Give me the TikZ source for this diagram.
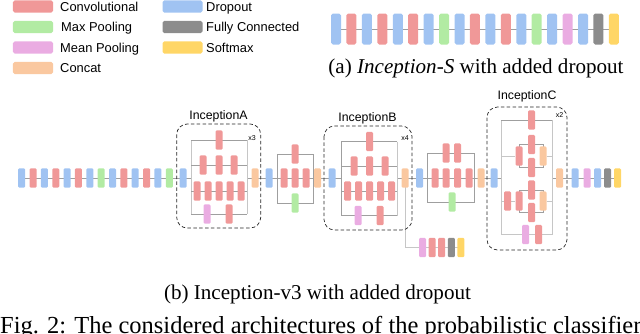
\documentclass[tikz,border=0pt]{standalone}
\usepackage{fontspec}
\setmainfont{Liberation Serif}
\setsansfont{Liberation Sans}
\usetikzlibrary{backgrounds}

\definecolor{convred}{RGB}{240,152,152}
\definecolor{maxgreen}{RGB}{178,235,163}
\definecolor{meanpink}{RGB}{234,172,226}
\definecolor{catpeach}{RGB}{250,200,160}
\definecolor{dropblue}{RGB}{160,195,242}
\definecolor{fcgray}{RGB}{140,140,140}
\definecolor{softyellow}{RGB}{255,214,102}

\tikzset{
  blk/.style={rounded corners=1pt, minimum width=0.21cm, minimum height=0.58cm, inner sep=0pt},
  bigblk/.style={rounded corners=1.5pt, minimum width=0.3cm, minimum height=0.93cm, inner sep=0pt},
  lgbox/.style={rounded corners=1.5pt, minimum width=1.2cm, minimum height=0.37cm, inner sep=0pt},
  convb/.style={fill=convred},
  maxb/.style={fill=maxgreen},
  meanb/.style={fill=meanpink},
  catb/.style={fill=catpeach},
  dropb/.style={fill=dropblue},
  fcb/.style={fill=fcgray},
  softb/.style={fill=softyellow},
  wire/.style={draw=gray!75, line width=0.8pt},
  lwire/.style={draw=gray!45, line width=0.8pt},
  incbox/.style={draw=black!85, densely dashed, rounded corners=9pt, line width=0.6pt},
  lgtext/.style={anchor=west, font=\sffamily\fontsize{11}{13}\selectfont, inner sep=0pt, text height=7.9pt, text depth=0pt},
  inclabel/.style={font=\sffamily\fontsize{10.5}{12}\selectfont, inner sep=0pt},
  rep/.style={font=\sffamily\fontsize{6}{7}\selectfont, inner sep=0pt},
  capt/.style={font=\fontsize{18}{21}\selectfont, inner sep=0pt, anchor=base}
}

\begin{document}
\begin{tikzpicture}[x=0.03cm, y=-0.03cm]
    \useasboundingbox (0,0) rectangle (640,334);

    % Legend
    \node[lgbox, convb] (lgconv) at (33,6.5) {};
    \node[lgtext] (lgconvt) at (60,6.5) {Convolutional};
    \node[lgbox, maxb] (lgmax) at (33,27) {};
    \node[lgtext] (lgmaxt) at (61,27) {Max Pooling};
    \node[lgbox, meanb] (lgmean) at (33,47.5) {};
    \node[lgtext] (lgmeant) at (60,47.5) {Mean Pooling};
    \node[lgbox, catb] (lgcat) at (33,68) {};
    \node[lgtext] (lgcatt) at (60,68) {Concat};
    \node[lgbox, dropb] (lgdrop) at (182.5,6.5) {};
    \node[lgtext] (lgdropt) at (206,6.5) {Dropout};
    \node[lgbox, fcb] (lgfc) at (182.5,27) {};
    \node[lgtext] (lgfct) at (206,27) {Fully Connected};
    \node[lgbox, softb] (lgsoft) at (182.5,47.5) {};
    \node[lgtext] (lgsoftt) at (206,47.5) {Softmax};

    % Inception-S
    \foreach \c [count=\i] in {dropb,convb,dropb,convb,dropb,convb,dropb,maxb,dropb,convb,dropb,convb,dropb,maxb,dropb,meanb,dropb,fcb,softb}
        \node[bigblk,\c] (s\i) at ({336+15.44*(\i-1)},29) {};
    \node[capt] (capa) at (476,73) {(a) \textit{Inception-S} with added dropout};

    % Inception-v3 stem
    \foreach \c [count=\i] in {dropb,convb,dropb,convb,dropb,convb,dropb,maxb,dropb,convb,dropb,convb,dropb,maxb}
        \node[blk,\c] (m\i) at ({21.7+11.35*(\i-1)},178) {};

    % InceptionA
    \node[blk,dropb] (inA) at (183,178) {};
    \foreach \r/\y in {1/140,2/165,3/191,4/214} {
        \coordinate (aL\r) at (191,\y);
        \coordinate (aR\r) at (247,\y);
    }
    \coordinate (aIn) at (191,178);
    \coordinate (aOut) at (247,178);
    \node[blk,convb] (ia11) at (219,140) {};
    \foreach \x [count=\i] in {203,219,234}
        \node[blk,convb] (ia2\i) at (\x,165) {};
    \foreach \x [count=\i] in {197,208,219,230,241}
        \node[blk,convb] (ia3\i) at (\x,191) {};
    \node[blk,meanb] (ia41) at (207,214) {};
    \node[blk,convb] (ia42) at (229,214) {};
    \node[blk,catb] (oA) at (255,178) {};
    \coordinate (boxA1) at (176.7,124);
    \coordinate (boxA2) at (260.7,228);
    \draw[incbox] (boxA1) rectangle (boxA2);
    \node[inclabel] (lblA) at (218.5,116.5) {InceptionA};
    \node[rep] (repA) at (252,138) {x3};

    % Reduction A
    \node[blk,dropb] (dA) at (269,178) {};
    \coordinate (rA1) at (277,154);
    \coordinate (rA2) at (313,203);
    \node[blk,convb] (ra11) at (295,154) {};
    \foreach \x [count=\i] in {284,295,306}
        \node[blk,convb] (ra2\i) at (\x,178) {};
    \node[blk,maxb] (ra31) at (295,203) {};
    \node[blk,catb] (oRA) at (317.5,178) {};

    % InceptionB
    \node[blk,dropb] (inB) at (332,178) {};
    \foreach \r/\y in {1/141.5,2/166,3/191,4/215.5} {
        \coordinate (bL\r) at (341,\y);
        \coordinate (bR\r) at (397,\y);
    }
    \coordinate (bIn) at (341,178);
    \coordinate (bOut) at (397,178);
    \node[blk,convb] (ib11) at (369.5,141.5) {};
    \foreach \x [count=\i] in {354,369.5,385}
        \node[blk,convb] (ib2\i) at (\x,166) {};
    \foreach \x [count=\i] in {347.5,358.5,369.5,380.5,391.5}
        \node[blk,convb] (ib3\i) at (\x,191) {};
    \node[blk,meanb] (ib41) at (358,215.5) {};
    \node[blk,convb] (ib42) at (380,215.5) {};
    \node[blk,catb] (oB) at (405,178) {};
    \coordinate (boxB1) at (324,126);
    \coordinate (boxB2) at (412,230);
    \draw[incbox] (boxB1) rectangle (boxB2);
    \node[inclabel] (lblB) at (367.5,118.5) {InceptionB};
    \node[rep] (repB) at (405,138) {x4};

    % Auxiliary head
    \foreach \c [count=\i] in {meanb,convb,convb,fcb,softb}
        \node[blk,\c] (x\i) at ({422.5+9.6*(\i-1)},247.5) {};

    % Reduction B
    \node[blk,dropb] (dB) at (419.5,178) {};
    \coordinate (rB1) at (427,153);
    \coordinate (rB2) at (474,202);
    \foreach \x [count=\i] in {446,457.5}
        \node[blk,convb] (rb1\i) at (\x,153) {};
    \foreach \x [count=\i] in {435,446,457.5,469}
        \node[blk,convb] (rb2\i) at (\x,178) {};
    \node[blk,maxb] (rb31) at (452,202) {};
    \node[blk,catb] (oRB) at (481,178) {};

    % InceptionC
    \node[blk,dropb] (inC) at (494,178) {};
    \foreach \r/\y in {1/120,2/156,3/201,4/234.5} {
        \coordinate (cL\r) at (501,\y);
        \coordinate (cR\r) at (552,\y);
    }
    \coordinate (cIn) at (501,178);
    \coordinate (cOut) at (552,178);
    \coordinate (c2a) at (519,144.5);
    \coordinate (c2b) at (543,167.5);
    \coordinate (c3a) at (519,190);
    \coordinate (c3b) at (543,212.5);
    \node[blk,convb] (ic11) at (531.5,120) {};
    \node[blk,convb] (ic21) at (519,156) {};
    \node[blk,convb] (ic22) at (531.5,144.5) {};
    \node[blk,convb] (ic23) at (531.5,167.5) {};
    \node[blk,catb] (ic24) at (543,156) {};
    \node[blk,convb] (ic31) at (507.5,201) {};
    \node[blk,convb] (ic32) at (519,201) {};
    \node[blk,convb] (ic33) at (531.5,190) {};
    \node[blk,convb] (ic34) at (531.5,212.5) {};
    \node[blk,catb] (ic35) at (543,201) {};
    \node[blk,meanb] (ic41) at (525.5,234.5) {};
    \node[blk,convb] (ic42) at (538.5,234.5) {};
    \node[blk,catb] (oC) at (559.5,178) {};
    \coordinate (boxC1) at (487,107);
    \coordinate (boxC2) at (567,250);
    \draw[incbox] (boxC1) rectangle (boxC2);
    \node[inclabel] (lblC) at (527,96) {InceptionC};
    \node[rep] (repC) at (559.5,115) {x2};

    % Classifier
    \foreach \c/\x [count=\i] in {dropb/575,meanb/587,dropb/597.5,fcb/607.5,softb/617.5}
        \node[blk,\c] (f\i) at (\x,178) {};

    % Connectors
    \begin{scope}[on background layer]
        \draw[wire] (s1) -- (s19);
        \draw[wire] (m1) -- (aIn);
        \draw[wire] (aOut) -- (bIn);
        \draw[wire] (bOut) -- (cIn);
        \draw[wire] (cOut) -- (f5);
        % InceptionA
        \draw[lwire] (aL1) -- (aL4);
        \draw[lwire] (aR1) -- (aR4);
        \foreach \r in {1,2,3,4}
            \draw[wire] (aL\r) -- (aR\r);
        % InceptionB
        \draw[wire] (bL1) -- (bL4);
        \draw[lwire] (bR1) -- (bR4);
        \foreach \r in {1,2,3,4}
            \draw[wire] (bL\r) -- (bR\r);
        % reductions
        \draw[wire] (rA1) rectangle (rA2);
        \draw[wire] (rB1) rectangle (rB2);
        % InceptionC
        \draw[lwire] (cL1) -- (cL4);
        \draw[lwire] (cR1) -- (cR4);
        \draw[wire] (cL1) -- (cR1);
        \draw[lwire] (cL2) -- (ic21);
        \draw[lwire] (ic24) -- (cR2);
        \draw[wire] (c2a) rectangle (c2b);
        \draw[lwire] (cL3) -- (ic32);
        \draw[lwire] (ic35) -- (cR3);
        \draw[wire] (c3a) rectangle (c3b);
        \draw[lwire] (cL4) -- (cR4);
        % auxiliary head
        \draw[lwire] (oB.center) |- (x5.center);
    \end{scope}

    % Captions
    \node[capt] (capb) at (317.5,299.5) {(b) Inception-v3 with added dropout};
    \node[anchor=base west, inner sep=0pt, font=\fontsize{20.9}{24}\selectfont] (figcap) at (0,333.3) {Fig. 2: The considered architectures of the probabilistic classifier};
\end{tikzpicture}
\end{document}
